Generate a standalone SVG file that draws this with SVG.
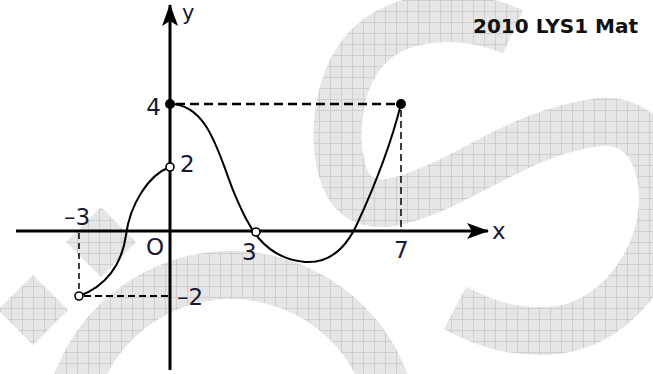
<svg xmlns="http://www.w3.org/2000/svg" width="653" height="374" viewBox="0 0 653 374">
<style>
.wm{fill:none;stroke:url(#grid);stroke-width:48}
.axis{stroke:#000;stroke-width:3;fill:none}
.dash{stroke:#000;fill:none}
.curve{stroke:#000;stroke-width:2;fill:none}
.lbl{font-family:"DejaVu Sans","Liberation Sans",sans-serif;font-size:23px;fill:#1a1a33}
.title{font-family:"DejaVu Sans","Liberation Sans",sans-serif;font-size:20px;font-weight:bold;fill:#111}
.open{fill:#fff;stroke:#000;stroke-width:1.6}
.full{fill:#000}
</style>
<defs>
<pattern id="grid" width="11" height="11" patternUnits="userSpaceOnUse">
<rect width="11" height="11" fill="#e6e6e6"/>
<path d="M0,0.5H11M0.5,0V11" stroke="#cfcfcf" stroke-width="1"/>
</pattern>
<marker id="arr" viewBox="0 0 22 16" refX="21" refY="8" markerWidth="22" markerHeight="16" markerUnits="userSpaceOnUse" orient="auto">
<path d="M0,0 L22,8 L0,16 L5,8 Z" fill="#000"/>
</marker>
</defs>
<rect width="653" height="374" fill="#fff"/>
<g id="watermark">
<path class="wm" d="M513,32 C470,12 400,10 365,50 C335,85 330,150 348,185 C365,212 395,205 430,190 C480,170 530,130 600,122 C650,118 668,170 662,215 C655,270 610,330 545,331 C505,332 478,320 455,308"/>
<circle class="wm" cx="231" cy="439" r="164"/>
<polygon points="101,207 136,242 101,277 66,242" fill="url(#grid)"/>
<polygon points="33,275 68,310 33,345 -2,310" fill="url(#grid)"/>
</g>
<g id="title"><text class="title" x="473" y="33">2010 LYS1 Mat</text></g>
<g id="guides">
<path class="dash" stroke-width="2.5" stroke-dasharray="9 5" d="M176,104H396"/>
<path class="dash" stroke-width="1.5" stroke-dasharray="7 4" d="M401,110V229"/>
<path class="dash" stroke-width="1.5" stroke-dasharray="6 4" d="M79,233V291"/>
<path class="dash" stroke-width="2" stroke-dasharray="7 4" d="M84,296H169"/>
</g>
<g id="axes">
<path class="axis" d="M16,231H488" marker-end="url(#arr)"/>
<path class="axis" d="M170,370V5" marker-end="url(#arr)"/>
</g>
<g id="curve">
<path class="curve" d="M79,296 C105,287 122,265 126,235 C130,205 148,175 170,167"/>
<path class="curve" d="M170,104 C210,104 220,160 235,195 C248,225 262,258 305,262 C335,264 350,240 358,222 C375,185 392,140 401,104"/>
</g>
<g id="points">
<circle class="full" cx="170" cy="104" r="5"/>
<circle class="full" cx="401" cy="104" r="5"/>
<circle class="open" cx="170" cy="167" r="4"/>
<circle class="open" cx="256" cy="232" r="4"/>
<circle class="open" cx="79" cy="296" r="4"/>
</g>
<g id="labels">
<text class="lbl" x="182" y="20" style="font-size:21px">y</text>
<text class="lbl" x="492" y="239">x</text>
<text class="lbl" x="161" y="115" text-anchor="end">4</text>
<text class="lbl" x="180" y="172">2</text>
<text class="lbl" x="64" y="225">–3</text>
<text class="lbl" x="146" y="255">O</text>
<text class="lbl" x="242" y="260">3</text>
<text class="lbl" x="394" y="258">7</text>
<text class="lbl" x="177" y="305">–2</text>
</g>
</svg>
